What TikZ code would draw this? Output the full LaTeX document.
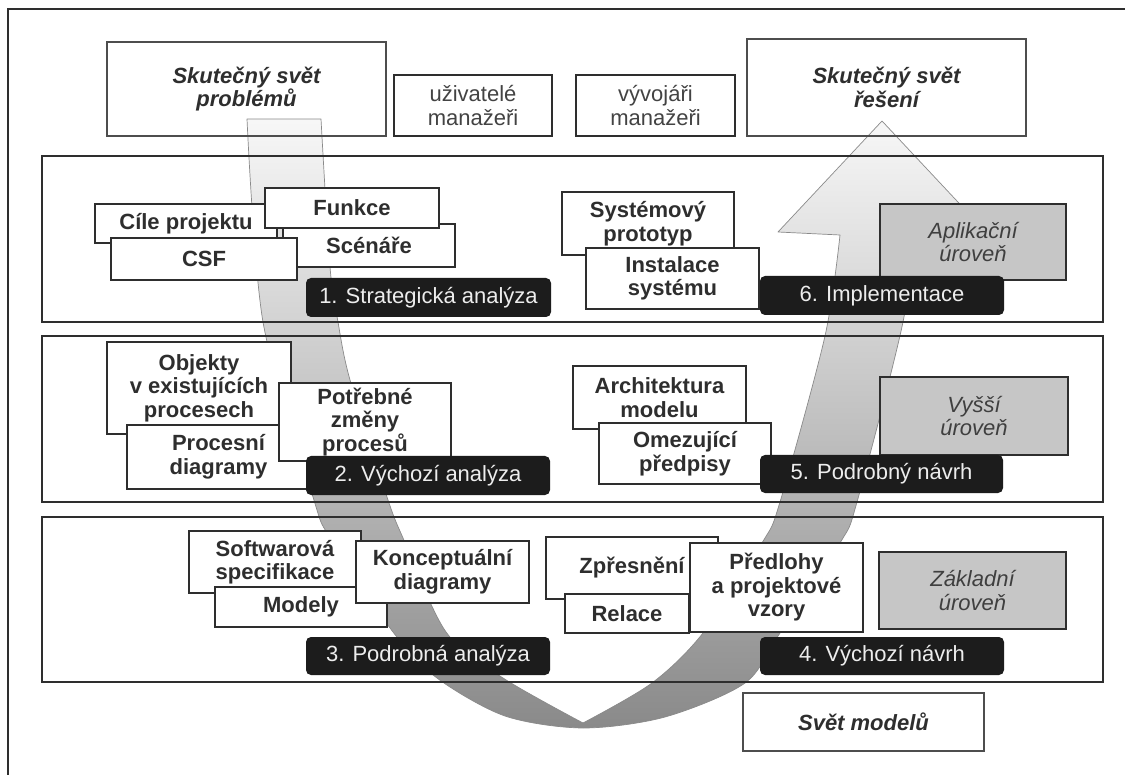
\documentclass[tikz,border=0pt]{standalone}
\usepackage{fontspec}
\setmainfont{Liberation Sans}
\definecolor{ink}{HTML}{2E2E2E}
\definecolor{levelgray}{HTML}{C6C6C6}
\definecolor{phaseblack}{HTML}{1C1C1C}
\definecolor{phasetext}{HTML}{EDEDED}
\definecolor{bandline}{HTML}{8A8A8A}
\newcommand\dfont{\fontsize{22}{23.5}\selectfont}
\begin{document}
\begin{tikzpicture}[x=1pt,y=-1pt,
  every node/.style={inner sep=0pt, outer sep=0pt, align=center},
  frame/.style={draw=ink, line width=1.3pt},
  band/.style={draw=ink, line width=1.4pt},
  world/.style={draw=ink!85, line width=1.4pt, text=ink, font=\dfont\bfseries\itshape},
  rolebox/.style={draw=ink, line width=1.4pt, fill=white, text=ink!90, font=\dfont},
  wbox/.style={draw=ink, line width=1.4pt, fill=white, text=ink, font=\dfont\bfseries},
  levelbox/.style={draw=ink, line width=1.4pt, fill=levelgray, text=ink!92, font=\dfont\itshape},
  phase/.style={fill=phaseblack, rounded corners=5pt, text=phasetext, font=\dfont},
  arrowband/.style={top color=black!3, bottom color=black!46, draw=bandline, line width=0.7pt, line join=round}
]
\useasboundingbox (0,0) rectangle (1125,775);
\fill[white] (0,0) rectangle (1125,775);

% outer frame
\draw[frame] (8,775) -- (8,9) -- (1125,9);

% the U-shaped process arrow, down through analysis and up through design
\path[arrowband] (247,119) -- (321,119)
  -- plot[smooth] coordinates {(321,119) (330,267) (338,322) (350,380) (387,497) (403,538) (446,632) (503,678) (583,723)}
  -- plot[smooth] coordinates {(583,723) (652,683) (703,633) (762,543) (780,502) (825,336) (840,235)}
  -- (778,232) -- (882,121) -- (986,232) -- (912,235)
  -- plot[smooth] coordinates {(912,235) (903,322) (857,502) (840,543) (780,633) (745,683) (665,717) (583,728) (505,716) (437,678) (393,632) (330,538) (313,497) (263,322) (247,119)}
  -- cycle;

% level bands
\node[band, minimum width=1061, minimum height=166] (band1) at (572.5,239) {};
\node[band, minimum width=1061, minimum height=166] (band2) at (572.5,419) {};
\node[band, minimum width=1061, minimum height=165] (band3) at (572.5,599.5) {};

% top row
\node[world, minimum width=279, minimum height=94] (problem) at (246.5,89) {Skutečný svět\\problémů};
\node[rolebox, minimum width=158, minimum height=61] (users) at (473,105.5) {uživatelé\\manažeři};
\node[rolebox, minimum width=159, minimum height=61] (devs) at (655.5,105.5) {vývojáři\\manažeři};
\node[world, minimum width=279, minimum height=97] (solution) at (886.5,87.5) {Skutečný svět\\řešení};

% band 1
\node[wbox, minimum width=182, minimum height=39] (cile) at (186,223.5) {Cíle projektu};
\node[wbox, minimum width=172, minimum height=43] (scen) at (369,245.5) {Scénáře};
\node[wbox, minimum width=174, minimum height=40] (funk) at (352,208) {Funkce};
\node[wbox, minimum width=186, minimum height=42] (csf) at (204,259) {CSF};
\node[phase, minimum width=245, minimum height=39] (ph1) at (428.5,297.5) {1. Strategická analýza};
\node[wbox, minimum width=172, minimum height=63] (sysp) at (648,223.5) {Systémový\\prototyp};
\node[wbox, minimum width=173, minimum height=61] (inst) at (672.5,278.5) {Instalace\\systému};
\node[levelbox, minimum width=186, minimum height=76] (apl) at (973,242) {Aplikační\\úroveň};
\node[phase, minimum width=244, minimum height=39] (ph6) at (882,295.5) {6. Implementace};

% band 2
\node[wbox, minimum width=184, minimum height=92] (obj) at (199,388) {Objekty\\v existujících\\procesech};
\node[wbox, minimum width=183, minimum height=64] (proc) at (218.5,457) {Procesní\\diagramy};
\node[wbox, minimum width=172, minimum height=78] (potr) at (365,422) {Potřebné\\změny\\procesů};
\node[phase, minimum width=244, minimum height=39] (ph2) at (428,475.5) {2. Výchozí analýza};
\node[wbox, minimum width=173, minimum height=63] (arch) at (659.5,397.5) {Architektura\\modelu};
\node[wbox, minimum width=172, minimum height=61] (omez) at (685,453.5) {Omezující\\předpisy};
\node[levelbox, minimum width=188, minimum height=78] (vyssi) at (974,416) {Vyšší\\úroveň};
\node[phase, minimum width=243, minimum height=38] (ph5) at (881.5,474) {5. Podrobný návrh};

% band 3
\node[wbox, minimum width=172, minimum height=62] (soft) at (275,562) {Softwarová\\specifikace};
\node[wbox, minimum width=172, minimum height=40] (mod) at (301,607) {Modely};
\node[wbox, minimum width=173, minimum height=62] (konc) at (442.5,572) {Konceptuální\\diagramy};
\node[phase, minimum width=244, minimum height=38] (ph3) at (428,656) {3. Podrobná analýza};
\node[wbox, minimum width=172, minimum height=62] (zpr) at (632,568) {Zpřesnění};
\node[wbox, minimum width=124, minimum height=39] (rel) at (627,613.5) {Relace};
\node[wbox, minimum width=173, minimum height=89] (pred) at (776.5,587.5) {Předlohy\\a projektové\\vzory};
\node[levelbox, minimum width=187, minimum height=77] (zakl) at (972.5,590.5) {Základní\\úroveň};
\node[phase, minimum width=244, minimum height=38] (ph4) at (882,656) {4. Výchozí návrh};

% bottom
\node[world, fill=white, minimum width=241, minimum height=58] (models) at (863.5,722) {Svět modelů};
\end{tikzpicture}
\end{document}
